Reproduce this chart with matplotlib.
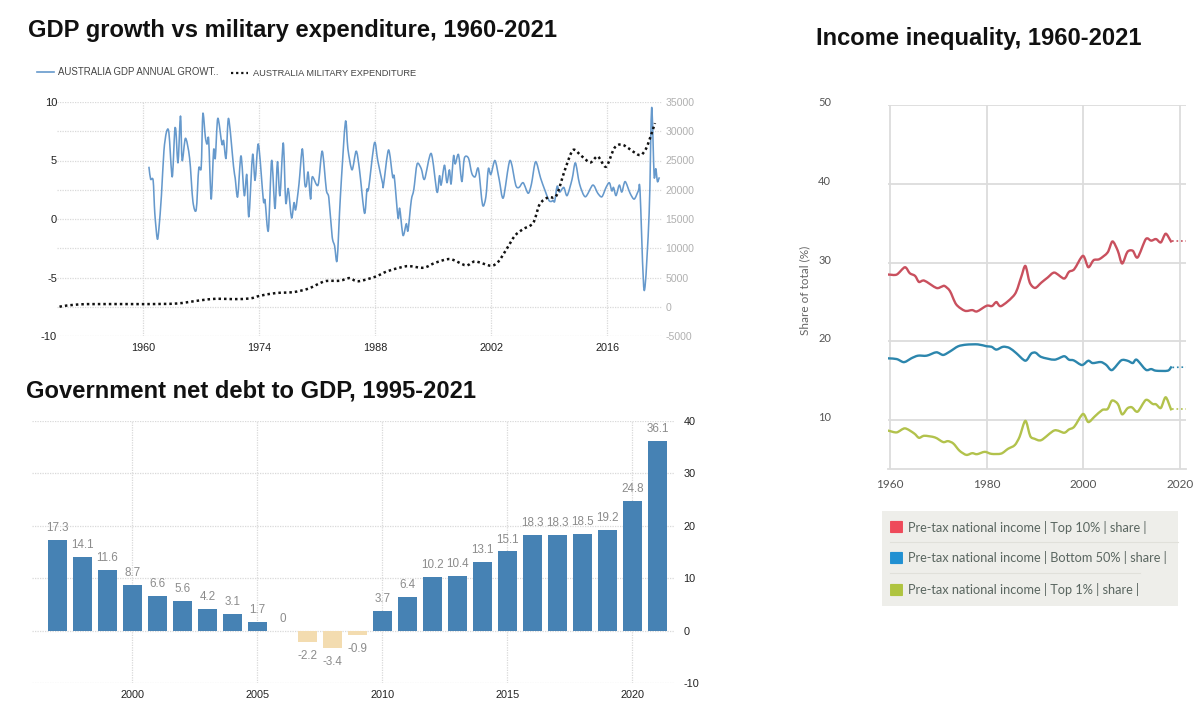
import matplotlib
matplotlib.use("Agg")
import numpy as np
import matplotlib.pyplot as plt
from matplotlib.patches import FancyBboxPatch, Rectangle
from matplotlib.lines import Line2D
from matplotlib.path import Path
from matplotlib.patheffects import AbstractPathEffect
from matplotlib.transforms import ScaledTranslation, IdentityTransform

W, H = 1199, 719
plt.rcParams['font.family'] = ['Liberation Sans', 'DejaVu Sans']
plt.rcParams['axes.unicode_minus'] = False

# ---- Chart 1 data ----
gdp_years = [1960.7, 1960.9, 1961.2, 1961.4, 1961.7, 1961.9, 1962.2, 1962.5, 1962.8, 1963.1, 1963.5, 1963.8, 1963.95,
             1964.2, 1964.5, 1964.7, 1965.1, 1965.6, 1966.0, 1966.4, 1966.7, 1967.0, 1967.2, 1967.5, 1967.7, 1967.9,
             1968.2, 1968.5, 1968.7, 1969.0, 1969.5, 1969.7, 1970.0, 1970.3, 1970.9, 1971.1, 1971.4, 1971.8, 1972.2,
             1972.5, 1972.75, 1973.2, 1973.5, 1973.9, 1974.5, 1974.7, 1975.1, 1975.5, 1975.9, 1976.2, 1976.5, 1976.9,
             1977.2, 1977.5, 1977.9, 1978.2, 1978.4, 1978.8, 1979.2, 1979.5, 1979.7, 1979.9, 1980.2, 1980.4, 1981.1,
             1981.6, 1982.1, 1982.4, 1982.8, 1983.1, 1983.4, 1983.8, 1984.4, 1984.7, 1985.2, 1985.7, 1986.1, 1986.7,
             1987.0, 1987.2, 1987.9, 1988.3, 1988.9, 1989.0, 1989.6, 1990.1, 1990.3, 1990.75, 1990.95, 1991.35, 1991.75,
             1991.95, 1992.35, 1992.65, 1993.05, 1993.55, 1993.95, 1994.75, 1995.45, 1995.75, 1995.95, 1996.35, 1996.65,
             1996.95, 1997.15, 1997.45, 1997.65, 1998.05, 1998.45, 1998.75, 1999.25, 1999.65, 2000.05, 2000.45, 2000.95,
             2001.35, 2001.65, 2001.95, 2002.45, 2002.95, 2003.45, 2004.25, 2004.95, 2005.35, 2005.85, 2006.45, 2006.85,
             2007.35, 2007.95, 2008.45, 2008.95, 2009.25, 2009.45, 2009.65, 2009.95, 2010.25, 2010.75, 2011.15, 2011.75,
             2012.15, 2012.65, 2013.35, 2014.25, 2014.85, 2015.35, 2015.85, 2016.25, 2016.55, 2016.75, 2017.05, 2017.45,
             2017.75, 2018.15, 2018.75, 2019.25, 2019.75, 2019.95, 2020.45, 2021.05, 2021.35, 2021.65, 2021.85, 2022.05, 2022.25]
gdp_values = [4.4, 3.4, 3.3, 0.5, -1.7, -0.8, 2.0, 5.8, 7.4, 7.4, 3.6, 7.5, 7.5,
              4.8, 8.8, 5.0, 6.9, 5.2, 1.5, 0.8, 4.3, 4.4, 9.0, 7.0, 6.4, 6.8,
              1.7, 5.9, 5.2, 8.6, 6.4, 6.7, 5.2, 8.6, 4.5, 3.5, 1.9, 5.4, 2.0,
              3.8, 0.2, 5.5, 3.3, 6.4, 1.6, 1.6, -1.0, 5.0, 0.9, 4.9, 2.0, 6.5,
              1.4, 2.6, 0.1, 1.4, 0.8, 3.0, 6.0, 3.0, 2.9, 4.0, 1.7, 3.6, 2.9,
              5.8, 2.5, 1.8, -1.5, -2.3, -3.5, 2.0, 8.3, 6.0, 4.2, 5.8, 4.2, 0.5,
              2.5, 2.6, 6.5, 5.0, 3.0, 2.9, 5.9, 3.6, 3.6, 0.1, 0.9, -1.4, -0.4,
              -1.0, 1.6, 2.5, 4.7, 4.3, 3.4, 5.6, 2.3, 3.7, 2.9, 4.6, 3.1,
              4.2, 3.0, 5.4, 4.7, 5.5, 3.2, 5.2, 5.2, 3.9, 3.6, 4.3, 1.2,
              1.9, 4.3, 3.8, 5.0, 3.4, 1.8, 5.0, 2.9, 2.7, 3.1, 2.2, 3.0,
              4.9, 3.5, 2.5, 1.6, 1.5, 1.6, 1.5, 2.8, 2.3, 2.7, 2.0, 3.4,
              4.8, 3.0, 1.9, 2.9, 2.2, 1.9, 2.7, 3.1, 2.4, 2.7, 2.0, 2.9,
              2.3, 3.2, 2.2, 1.7, 2.4, 2.4, -6.1, 0.5, 9.5, 3.7, 4.3, 3.2, 3.5]
mil_years = [1949.9, 1950.75, 1953.2, 1960.0, 1964.0, 1966.8, 1968.8, 1970.9, 1972.9, 1974.1, 1976.0, 1978.1, 1979.9,
             1981.9, 1983.7, 1984.9, 1985.9, 1988.0, 1989.4, 1991.0, 1992.05, 1993.85, 1995.25, 1997.05, 1998.95,
             2000.05, 2001.95, 2002.85, 2003.85, 2004.85, 2005.85, 2007.05, 2007.85, 2008.85, 2009.85, 2010.85,
             2011.85, 2012.85, 2013.95, 2014.85, 2015.85, 2016.85, 2017.85, 2019.85, 2020.65, 2021.25, 2021.75]
mil_values = [0, 200, 450, 450, 550, 1080, 1370, 1300, 1420, 1880, 2340, 2500, 3080,
              4350, 4440, 4900, 4350, 5130, 6040, 6700, 6950, 6670, 7520, 8150, 7060,
              7750, 7010, 7700, 9860, 12140, 13280, 14300, 17550, 18690, 18970, 23250,
              26780, 25810, 24670, 25700, 23930, 27120, 27690, 25930, 26950, 29230, 31390]
c1_xticks = [1960, 1974, 1988, 2002, 2016]
c1_left_ticks = [-10, -5, 0, 5, 10]
c1_right_ticks = [-5000, 0, 5000, 10000, 15000, 20000, 25000, 30000, 35000]

# ---- Chart 2 data ----
debt_years = list(range(1997, 2022))
debt_values = [17.3, 14.1, 11.6, 8.7, 6.6, 5.6, 4.2, 3.1, 1.7, 0, -2.2, -3.4, -0.9,
               3.7, 6.4, 10.2, 10.4, 13.1, 15.1, 18.3, 18.3, 18.5, 19.2, 24.8, 36.1]
c2_xticks = [2000, 2005, 2010, 2015, 2020]
c2_yticks = [-10, 0, 10, 20, 30, 40]

# ---- Chart 3 data ----
red_years = [1959.7, 1961.4, 1963.1, 1964.1, 1965.2, 1966, 1967.1, 1969.6, 1970.7, 1971.3, 1972.4, 1973.7, 1975.5, 1977, 1978,
             1980, 1981.1, 1982, 1983, 1985.8, 1987.1, 1988, 1988.9, 1990, 1991.3, 1992.6, 1994, 1996, 1997, 1998.1, 1999.9,
             2001, 2002.1, 2003.3, 2005, 2006, 2007.1, 2008, 2009.1, 2010.2, 2011.2, 2012.9, 2014, 2015, 2016, 2017, 2018.1]
red_values = [28.47, 28.47, 29.4, 28.64, 28.3, 27.53, 27.7, 26.77, 26.94, 27.02, 26.38, 24.68, 23.87, 23.96, 23.79,
              24.51, 24.47, 24.98, 24.47, 25.96, 28.09, 29.57, 27.45, 26.77, 27.45, 28.09, 28.72, 27.96, 28.81, 29.15, 30.85,
              29.4, 30.3, 30.43, 31.28, 32.68, 31.49, 29.87, 31.36, 31.49, 30.64, 32.98, 32.77, 32.98, 32.55, 33.66, 32.68]
blue_years = [1959.7, 1961.4, 1962.7, 1963.4, 1964.4, 1965.8, 1967.6, 1969.6, 1971, 1972.4, 1974.1, 1975.8, 1978.2, 1980, 1981,
              1982, 1983.4, 1984.7, 1986.1, 1988, 1989.2, 1990.1, 1991.3, 1994, 1996, 1997, 1998, 1999.7, 2001, 2001.9, 2003.6,
              2004.7, 2005.9, 2007.8, 2009.1, 2010.2, 2011, 2012.9, 2014, 2015, 2017.4, 2018.1]
blue_values = [17.83, 17.74, 17.36, 17.45, 17.83, 18.17, 18.17, 18.6, 18.26, 18.7, 19.36, 19.57, 19.6, 19.36, 19.3,
               18.94, 19.3, 19.15, 18.5, 17.53, 18.43, 18.55, 18.0, 17.66, 18.1, 17.66, 17.57, 16.98, 17.53, 17.23, 17.36,
               17.0, 16.34, 17.57, 17.53, 17.23, 17.66, 16.38, 16.47, 16.26, 16.26, 16.68]
green_years = [1959.7, 1961.4, 1963.1, 1965, 1966, 1967.1, 1969.3, 1971, 1972, 1973.1, 1974.4, 1975.8, 1977, 1978, 1979.6, 1981,
               1983, 1984.4, 1985.8, 1986.8, 1988, 1989, 1989.9, 1991.3, 1994, 1996, 1997, 1998.1, 1999.9, 2001, 2002.3, 2003.9,
               2005, 2005.9, 2007.1, 2008, 2009.1, 2010, 2011.2, 2012.9, 2014.3, 2015, 2016, 2017, 2018.1]
green_values = [8.64, 8.43, 8.94, 8.3, 7.74, 8.0, 7.79, 7.2, 7.32, 7.02, 6.09, 5.57, 5.79, 5.66, 5.96, 5.7,
                5.74, 6.34, 6.81, 7.87, 9.9, 7.96, 7.62, 7.45, 8.68, 8.38, 8.8, 9.15, 10.77, 9.74, 10.43, 11.28,
                11.4, 12.47, 12.04, 10.72, 11.49, 11.62, 11.06, 12.55, 12.04, 12.0, 11.53, 12.89, 11.36]
proj_years = [2018.4, 2021.2]
red_proj = [32.68, 32.68]
blue_proj = [16.68, 16.72]
green_proj = [11.36, 11.36]
c3_xticks = [1960, 1980, 2000, 2020]
c3_yticks = [10, 20, 30, 40, 50]
legend_labels = ['Pre-tax national income | Top 10% | share |',
                 'Pre-tax national income | Bottom 50% | share |',
                 'Pre-tax national income | Top 1% | share |']


class Spline(AbstractPathEffect):
    """Strokes a line through its own vertices as a smooth curve, the way the source chart does."""

    def draw_path(self, renderer, gc, tpath, affine, rgbFace=None):
        p = affine.transform(tpath.vertices)
        if len(p) < 3:
            renderer.draw_path(gc, tpath, affine, rgbFace)
            return
        t = np.gradient(p, axis=0) / 3 * 0.85
        verts = [p[0]]
        codes = [Path.MOVETO]
        for i in range(len(p) - 1):
            verts += [p[i] + t[i], p[i + 1] - t[i + 1], p[i + 1]]
            codes += [Path.CURVE4] * 3
        renderer.draw_path(gc, Path(np.array(verts), codes), IdentityTransform(), rgbFace)


SMOOTH = [Spline()]
fig = plt.figure(figsize=(W / 100, H / 100), dpi=100, facecolor='white')


def px_axes(l, t, r, b, **kw):
    return fig.add_axes([l / W, 1 - b / H, (r - l) / W, (b - t) / H], **kw)


def fig_text(x, y, s, **kw):
    return fig.text(x / W, 1 - y / H, s, **kw)


def strip(ax):
    for s in ax.spines.values():
        s.set_visible(False)


GRID = '#d9d9d9'

# ---- Chart 1 ----
ax1 = px_axes(57, 102, 661.5, 336)
strip(ax1)
ax1.set_xlim(1949.6, 2022.54)
ax1.set_ylim(-10, 10)
ax1.set_xticks(c1_xticks)
ax1.set_yticks(c1_left_ticks)
ax1.set_yticks([-7.5, -2.5, 2.5, 7.5], minor=True)
ax1.grid(True, which='both', color=GRID, lw=0.9, ls=(0, (1, 1)))
ax1.tick_params(which='both', length=0)
ax1.tick_params(axis='x', labelsize=7.8, labelcolor='#222222', pad=5)
ax1.tick_params(axis='y', labelsize=8, labelcolor='#222222', pad=0)
ax1.plot(gdp_years, gdp_values, color='#6699cc', lw=1.15, solid_joinstyle='round', zorder=3, path_effects=SMOOTH)
ax1b = ax1.twinx()
strip(ax1b)
ax1b.set_ylim(-5000, 35000)
ax1b.set_yticks(c1_right_ticks)
ax1b.tick_params(length=0, labelsize=7.6, labelcolor='#b0b0b0', pad=3)
ax1b.plot(mil_years, mil_values, color='#111111', lw=1.8, ls=(0, (1, 1.2)), zorder=4, path_effects=SMOOTH)

fig.add_artist(Line2D([37 / W, 54 / W], [1 - 72 / H] * 2, color='#6699cc', lw=1.2))
fig_text(58, 72, 'AUSTRALIA GDP ANNUAL GROWT..', fontsize=6.9, color='#444444', va='center')
fig.add_artist(Line2D([231 / W, 248 / W], [1 - 73 / H] * 2, color='#111111', lw=1.6, ls=(0, (1, 1.3))))
fig_text(253, 74, 'AUSTRALIA MILITARY EXPENDITURE', fontsize=6.7, color='#444444', va='center')
fig_text(28, 31, 'GDP growth vs military expenditure, 1960-2021', fontsize=17.1, fontweight='bold',
         color='#111111', va='center')

# ---- Chart 2 ----
ax2 = px_axes(32, 421, 675, 683)
strip(ax2)
ax2.set_xlim(1995.98, 2021.7)
ax2.set_ylim(-10, 40)
ax2.set_axisbelow(True)
ax2.grid(True, color=GRID, lw=0.9, ls=(0, (1, 1)))
colors = ['#4682b4' if v >= 0 else '#f3dcb0' for v in debt_values]
ax2.bar(debt_years, debt_values, width=0.79, color=colors, zorder=3)
for yr, v in zip(debt_years, debt_values):
    off = 8.6 if v >= 0 else -10
    ax2.annotate(f'{v:g}', (yr, v), xytext=(0, off), textcoords='offset points', ha='center', va='center',
                 fontsize=8.4, color='#8c8c8c', zorder=4)
ax2.set_xticks(c2_xticks)
ax2.set_yticks(c2_yticks)
ax2.yaxis.tick_right()
ax2.tick_params(length=0)
ax2.tick_params(axis='x', labelsize=7.8, labelcolor='#222222', pad=5)
ax2.tick_params(axis='y', labelsize=7.8, labelcolor='#222222', pad=6)
fig_text(26, 391, 'Government net debt to GDP, 1995-2021', fontsize=17.1, fontweight='bold',
         color='#111111', va='center')

# ---- Chart 3 ----
ax3 = px_axes(888, 105, 1186, 469)
strip(ax3)
ax3.set_xlim(1959.6, 2021.2)
ax3.set_ylim(3.78, 50)
ax3.set_xticks(c3_xticks)
ax3.set_yticks(c3_yticks)
ax3.set_axisbelow(True)
ax3.grid(True, color='#dcdcdc', lw=1.3)
ax3.spines['bottom'].set_visible(True)
ax3.spines['bottom'].set_color('#dcdcdc')
ax3.spines['bottom'].set_linewidth(1.3)
ax3.tick_params(length=0)
ax3.tick_params(axis='x', labelsize=8.5, labelcolor='#555555', pad=7.5)
ax3.tick_params(axis='y', labelsize=8, labelcolor='#555555', pad=41)
for lab in ax3.get_xticklabels() + ax3.get_yticklabels():
    lab.set_fontfamily(['Lato', 'DejaVu Sans'])
for lab in ax3.get_yticklabels():
    lab.set_transform(lab.get_transform() + ScaledTranslation(0, 3.5 / 100, fig.dpi_scale_trans))
RED, BLUE, GREEN = '#c9505e', '#2c86ad', '#b2c24c'
for xs, ys, py, c in [(red_years, red_values, red_proj, RED),
                      (blue_years, blue_values, blue_proj, BLUE),
                      (green_years, green_values, green_proj, GREEN)]:
    ax3.plot(xs, ys, color=c, lw=1.7, solid_joinstyle='round', zorder=3, path_effects=SMOOTH)
    ax3.plot(proj_years, py, color=c, lw=1.2, ls=(0, (1, 1.7)), zorder=3)
fig_text(805, 290, 'Share of total (%)', fontsize=8.5, color='#666666', rotation=90, ha='center', va='center',
         family=['Lato', 'DejaVu Sans'])
fig_text(816, 39, 'Income inequality, 1960-2021', fontsize=17.1, fontweight='bold', color='#111111', va='center')

# legend panel
fig.add_artist(Rectangle((882 / W, 1 - 606 / H), 296 / W, 95 / H, transform=fig.transFigure,
                         facecolor='#eeeeea', edgecolor='none'))
fig.add_artist(Line2D([890 / W, 1178 / W], [1 - 542 / H] * 2, color='#e0e0da', lw=0.8))
fig.add_artist(Line2D([890 / W, 1140 / W], [1 - 573 / H] * 2, color='#e0e0da', lw=0.8))
for y, lab, c in zip([527, 558, 590], legend_labels, ['#ee4a5a', '#2190d2', '#afc440']):
    fig.add_artist(FancyBboxPatch((891 / W, 1 - (y + 5.5) / H), 11 / W, 11 / H, transform=fig.transFigure,
                                  boxstyle='round,pad=0.0008', facecolor=c, edgecolor='none'))
    fig_text(908, y, lab, fontsize=9.2, color='#5a6660', va='center', family=['Lato', 'DejaVu Sans'])

fig.savefig('out.png', dpi=100)
